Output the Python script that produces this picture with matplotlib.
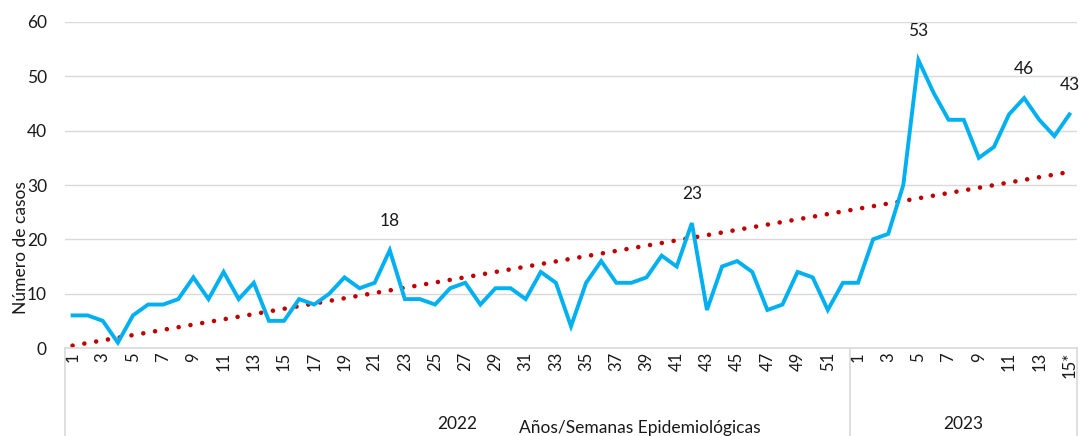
import numpy as np
import matplotlib
matplotlib.use("Agg")
import matplotlib.pyplot as plt
from matplotlib.transforms import blended_transform_factory

plt.rcParams["font.family"] = ["Lato", "DejaVu Sans"]

# --- data: weekly cases, 2022 weeks 1-52 then 2023 weeks 1-15 ---
cases_2022 = [6, 6, 5, 1, 6, 8, 8, 9, 13, 9, 14, 9, 12, 5, 5, 9, 8, 10, 13, 11,
              12, 18, 9, 9, 8, 11, 12, 8, 11, 11, 9, 14, 12, 4, 12, 16, 12, 12, 13, 17,
              15, 23, 7, 15, 16, 14, 7, 8, 14, 13, 7, 12]
cases_2023 = [12, 20, 21, 30, 53, 47, 42, 42, 35, 37, 43, 46, 42, 39, 43]
weeks_2022 = list(range(1, 53))
weeks_2023 = list(range(1, 16))
years = ["2022", "2023"]
labelled_points = [(21, 18), (41, 23), (56, 53), (63, 46), (66, 43)]  # (index, value)

values = np.array(cases_2022 + cases_2023, dtype=float)
x = np.arange(len(values))
n22 = len(weeks_2022)

tick_labels = [str(w) if w % 2 == 1 else "" for w in weeks_2022]
tick_labels += [str(w) if w % 2 == 1 else "" for w in weeks_2023]
tick_labels[-1] = "15*"

BLUE = "#00B0F0"
RED = "#C00000"
GRID = "#D9D9D9"
TXT = "#1a1a1a"

fig = plt.figure(figsize=(10.81, 4.36), dpi=100)
ax = fig.add_axes([65 / 1081, 1 - 348 / 436, (1077 - 65) / 1081, (348 - 22) / 436])

ax.set_xlim(-0.5, len(values) - 0.5)
ax.set_ylim(0, 60)
ax.set_yticks(range(0, 61, 10))
ax.yaxis.grid(True, color=GRID, lw=1)
ax.set_axisbelow(True)
for s in ["top", "right", "left"]:
    ax.spines[s].set_visible(False)
ax.spines["bottom"].set_color(GRID)
ax.spines["bottom"].set_linewidth(1.2)

# trend line (least squares)
coef = np.polyfit(x, values, 1)
ax.plot(x, np.polyval(coef, x), color=RED, lw=3.3, linestyle=(0, (0.01, 2.6)),
        dash_capstyle="round", zorder=2)
ax.plot(x, values, color=BLUE, lw=2.8, zorder=3, solid_joinstyle="miter")

for i, v in labelled_points:
    ax.annotate(str(v), (x[i], v), xytext=(0, 21), textcoords="offset points",
                ha="center", va="center", fontsize=12.5, color=TXT)

ax.set_xticks(x)
ax.set_xticklabels(tick_labels, rotation=90, fontsize=12, color=TXT)
ax.tick_params(axis="x", length=0, pad=3)
ax.tick_params(axis="y", length=0, labelsize=12.5, colors=TXT, pad=13)

# category grouping box below the axis
tr = blended_transform_factory(ax.transData, ax.transAxes)
ybot = -348 / 326 - 0.05
for xv in [-0.5, n22 - 0.5, len(values) - 0.5]:
    ax.plot([xv, xv], [0, ybot], transform=tr, color=GRID, lw=1.2, clip_on=False)

x22 = (n22 - 1) / 2
x23 = n22 + (len(weeks_2023) - 1) / 2
for xc, yr in zip([x22, x23], years):
    ax.text(xc, (424 - 348) / -326, yr, transform=tr, ha="center", va="center",
            fontsize=12.5, color=TXT)

fig.text(640 / 1081, 1 - 428 / 436, "Años/Semanas Epidemiológicas", ha="center",
         va="center", fontsize=12.5, color=TXT)
fig.text(21 / 1081, 1 - 248 / 436, "Número de casos", rotation=90, ha="center",
         va="center", fontsize=12.5, color=TXT)

fig.savefig("out.png", dpi=100)
